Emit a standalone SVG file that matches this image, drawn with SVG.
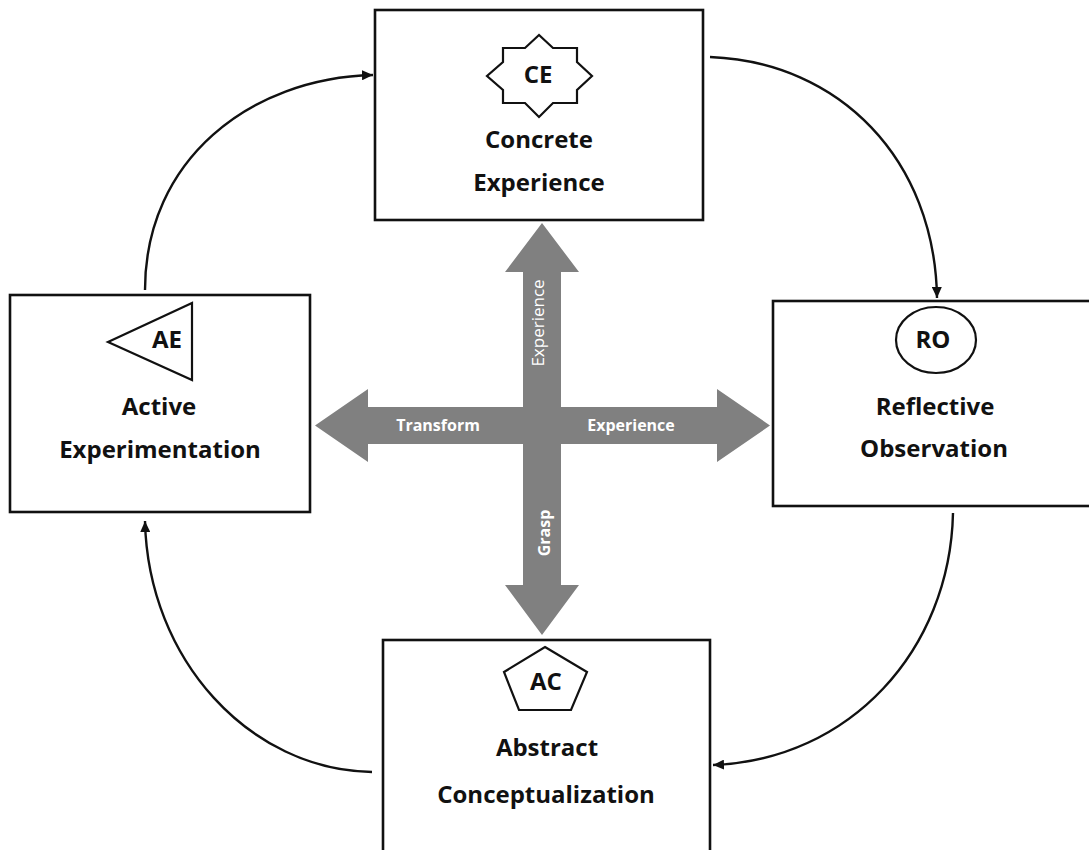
<svg xmlns="http://www.w3.org/2000/svg" width="1089" height="850" viewBox="0 0 1089 850">
<style>
.box{fill:#fff;stroke:#111;stroke-width:2.6}
.badge{fill:#fff;stroke:#111;stroke-width:2.2}
.t{font-family:"Open Sans","Noto Sans","Liberation Sans",sans-serif;font-weight:700;font-size:24px;fill:#111;text-anchor:middle}
.c{font-family:"Open Sans","Noto Sans","Liberation Sans",sans-serif;font-weight:700;font-size:16px;fill:#fff;text-anchor:middle}
.cr{font-family:"Open Sans","Noto Sans","Liberation Sans",sans-serif;font-weight:400;font-size:17px;fill:#fff;text-anchor:middle}
.conn{fill:none;stroke:#111;stroke-width:2.4}
</style>
<defs>
<marker id="ah" markerUnits="userSpaceOnUse" markerWidth="12" markerHeight="10" refX="11" refY="5" orient="auto">
<path d="M0,0 L11,5 L0,10 Z" fill="#111"/>
</marker>
</defs>
<rect width="1089" height="850" fill="#fff"/>

<g id="cross">
<path d="M542,223 L579,272 L561,272 L561,407 L717,407 L717,389 L770,425.5 L717,462 L717,444 L561,444 L561,585 L579,585 L542,635 L505,585 L523,585 L523,444 L368,444 L368,462 L315,425.5 L368,389 L368,407 L523,407 L523,272 L505,272 Z" fill="#808080"/>
<text class="cr" transform="translate(544,323) rotate(-90)">Experience</text>
<text class="c" x="438" y="431">Transform</text>
<text class="c" x="631" y="431">Experience</text>
<text class="c" transform="translate(550,533) rotate(-90)">Grasp</text>
</g>

<g id="connectors">
<path class="conn" marker-end="url(#ah)" d="M145,290 C145,160 250,78 373,75"/>
<path class="conn" marker-end="url(#ah)" d="M710,57 C840,62 935,160 937,298"/>
<path class="conn" marker-end="url(#ah)" d="M953,513 C950,650 850,760 713,765"/>
<path class="conn" marker-end="url(#ah)" d="M372,772 C250,770 148,660 145,521"/>
</g>

<g id="node-ce">
<rect class="box" x="375" y="10" width="328" height="210"/>
<polygon class="badge" points="539,35 525,48 503,48 503,62 487,76 503,90 503,103 525,103 539,117 553,103 577,103 577,90 592,76 577,62 577,48 553,48"/>
<text class="t" x="538" y="83">CE</text>
<text class="t" x="539" y="148">Concrete</text>
<text class="t" x="539" y="191">Experience</text>
</g>

<g id="node-ae">
<rect class="box" x="10" y="295" width="300" height="217"/>
<polygon class="badge" points="108,342 192,303 192,380"/>
<text class="t" x="167" y="348">AE</text>
<text class="t" x="159" y="415">Active</text>
<text class="t" x="160" y="458">Experimentation</text>
</g>

<g id="node-ro">
<rect class="box" x="773" y="301" width="330" height="205"/>
<ellipse class="badge" cx="936" cy="340" rx="40" ry="33"/>
<text class="t" x="933" y="348">RO</text>
<text class="t" x="935" y="415">Reflective</text>
<text class="t" x="934" y="457">Observation</text>
</g>

<g id="node-ac">
<rect class="box" x="383" y="640" width="327" height="230"/>
<polygon class="badge" points="545,647 587,672 571,710 519,710 504,672"/>
<text class="t" x="546" y="690">AC</text>
<text class="t" x="547" y="756">Abstract</text>
<text class="t" x="546" y="803">Conceptualization</text>
</g>
</svg>
